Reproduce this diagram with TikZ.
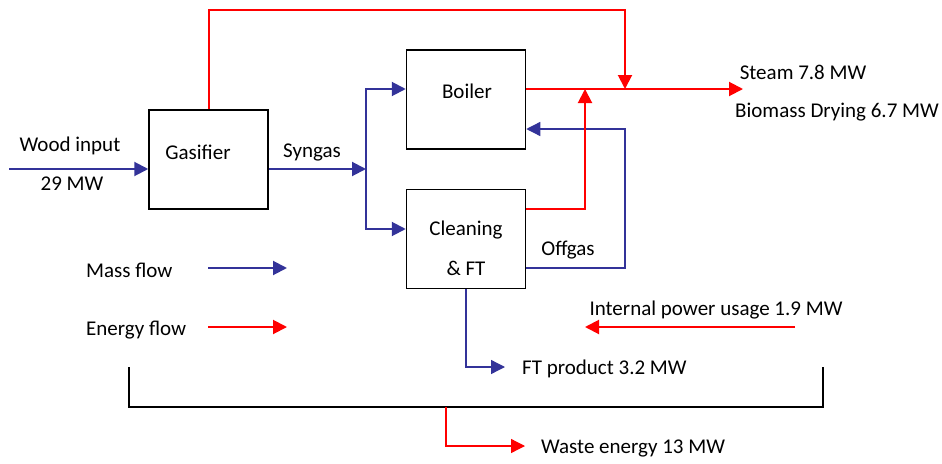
\documentclass[tikz,border=0pt]{standalone}
\usepackage{fontspec}
\setmainfont{Carlito}
\usetikzlibrary{arrows.meta}
\definecolor{mblue}{RGB}{51,51,153}
\definecolor{ered}{RGB}{255,0,0}
\begin{document}
\begin{tikzpicture}[x=1pt,y=-1pt,
  box/.style={draw,line width=1.5pt,minimum width=119pt,minimum height=99pt,inner sep=0pt},
  lbl/.style={font=\fontsize{21}{24}\selectfont,inner sep=0pt},
  tip/.style={-{Triangle[length=14pt,width=14pt]}},
  mflow/.style={draw=mblue,line width=2pt,tip},
  mthin/.style={draw=mblue,line width=1.3pt,tip},
  eflow/.style={draw=ered,line width=2pt,tip},
  ethin/.style={draw=ered,line width=1.3pt,tip}]
\useasboundingbox (0,0) rectangle (942,463);
% boxes
\node[box] (gas) at (208.5,159.5) {};
\node[box] (boil) at (466,99.5) {};
\node[box] (clean) at (466,239) {};
% box texts
\node[lbl] (tgas) at (198,152) {Gasifier};
\node[lbl] (tboil) at (467,91) {Boiler};
\node[lbl] (tclean1) at (466,230) {Cleaning};
\node[lbl] (tclean2) at (466,268) {\& FT};
% coordinates
\coordinate (win) at (9,169);
\coordinate (split) at (366,169);
\coordinate (bin) at (366,89);
\coordinate (cin) at (366,229);
\coordinate (top) at (625,10);
\coordinate (sj) at (625,89);
\coordinate (steam) at (743,89);
\coordinate (cr) at (585,209);
\coordinate (cj) at (585,89);
\coordinate (og) at (625,268);
\coordinate (bo) at (625,129);
\coordinate (ft) at (505,367);
\coordinate (ip1) at (795,327);
\coordinate (ip2) at (585,327);
\coordinate (b1) at (129,367);
\coordinate (b2) at (823,367);
\coordinate (bb) at (446,407);
\coordinate (we) at (525,446);
\coordinate (lm1) at (208,268);
\coordinate (lm2) at (287,268);
\coordinate (le1) at (208,327);
\coordinate (le2) at (287,327);
% mass flows
\draw[mflow] (win) -- (gas.west |- win);
\draw[mflow] (gas.east |- win) -- (split);
\draw[mflow] (split) -- (bin) -- (boil.west |- bin);
\draw[mflow] (split) -- (cin) -- (clean.west |- cin);
\draw[mthin] (clean.east |- og) -| (bo) -- (boil.east |- bo);
\draw[mthin] (clean.south) |- (ft);
% energy flows
\draw[eflow] (gas.north) |- (top) -- (sj);
\draw[eflow] (boil.east |- sj) -- (steam);
\draw[eflow] (clean.east |- cr) -| (cj);
\draw[eflow] (ip1) -- (ip2);
% bracket
\draw[line width=1.5pt] (b1) |- (bb) -| (b2);
\draw[ethin] (bb) |- (we);
% legend
\draw[mflow] (lm1) -- (lm2);
\draw[eflow] (le1) -- (le2);
% labels
\node[lbl] (lwood) at (70,146) {Wood input};
\node[lbl] (lwood2) at (72,184) {29 MW};
\node[lbl] (lsyn) at (312,152) {Syngas};
\node[lbl] (loff) at (568,250) {Offgas};
\node[lbl] (lsteam) at (803,72) {Steam 7.8 MW};
\node[lbl] (ldry) at (837,112) {Biomass Drying 6.7 MW};
\node[lbl,anchor=west] (lmass) at (86,270) {Mass flow};
\node[lbl,anchor=west] (lenergy) at (86,330) {Energy flow};
\node[lbl] (lip) at (716,310) {Internal power usage 1.9 MW};
\node[lbl,anchor=west] (lft) at (522,369) {FT product 3.2 MW};
\node[lbl,anchor=west] (lwaste) at (541,448) {Waste energy 13 MW};
\end{tikzpicture}
\end{document}
